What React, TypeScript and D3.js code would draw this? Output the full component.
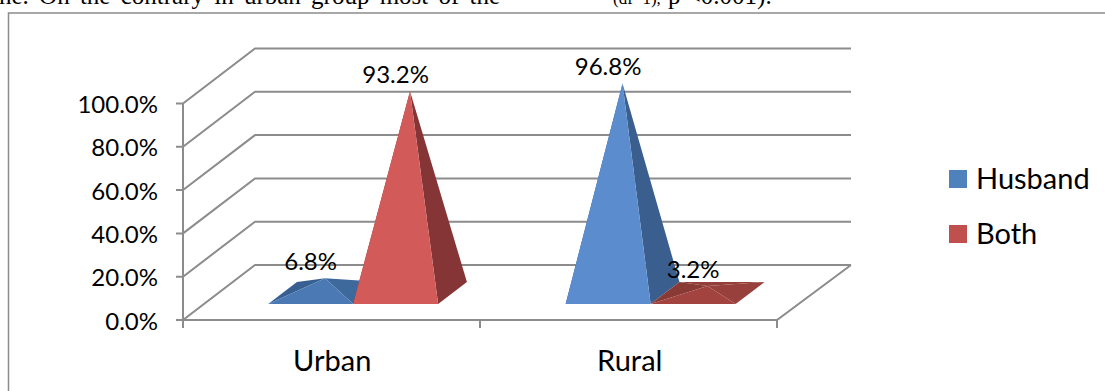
import React from "react";
import * as d3 from "d3";

const categories = ["Urban", "Rural"];
const seriesNames = ["Husband", "Both"];
const husbandValues = [6.8, 96.8];
const bothValues = [93.2, 3.2];
const valueTicks = [0, 20, 40, 60, 80, 100];
const legendColors = ["#4f81bd", "#c0504d"];

// Face shades per series: tall pyramids catch more light than the nearly flat ones.
const tallShades = [
  { front: "#5b8ccd", right: "#3a5f8f", left: "#3a5f8f", back: "#3a5f8f" },
  { front: "#d25b59", right: "#853536", left: "#853536", back: "#853536" },
];
const flatShades = [
  { front: "#4a79b3", right: "#3e699c", left: "#375f91", back: "#3e699c" },
  { front: "#a2433f", right: "#98413c", left: "#8a3a35", back: "#933e39" },
];

const W = 1105;
const H = 391;
const DEPTH_X = 72;
const DEPTH_Y = 55;
const NEAR = 0.29;
const FAR = 0.69;
const BAR_W = 85;
const FONT = "Lato, 'Noto Sans', sans-serif";
const GRID = "#8c8c8c";

const y = d3.scaleLinear().domain([0, 100]).range([320, 103.5]);
const xBand = d3.scaleBand<string>().domain(categories).range([183.5, 778.5]);
const xTick = d3.scalePoint<number>().domain([0, 1, 2]).range([183, 777]);

const path = (pts: [number, number][]) => (d3.line()(pts) ?? "") + "Z";
const fmt = (v: number) => `${v.toFixed(1)}%`;

type Pt = [number, number];

function Pyramid({ cat, series, value }: { cat: string; series: number; value: number }) {
  const inset = (xBand.bandwidth() - 2 * BAR_W) / 2;
  const x0 = (xBand(cat) ?? 0) + inset + series * BAR_W;
  const x1 = x0 + BAR_W;
  const project = (x: number, v: number, d: number): Pt => [x + DEPTH_X * d, y(v) - DEPTH_Y * d];
  const fl = project(x0, 0, NEAR);
  const fr = project(x1, 0, NEAR);
  const bl = project(x0, 0, FAR);
  const br = project(x1, 0, FAR);
  const apex = project((x0 + x1) / 2, value, (NEAR + FAR) / 2);
  const s = (value > 50 ? tallShades : flatShades)[series];
  const labelX = (fl[0] + fr[0]) / 2;
  return (
    <g>
      {apex[1] > bl[1] && <path d={path([bl, br, apex])} fill={s.back} />}
      <path d={path([fl, bl, apex])} fill={s.left} />
      <path d={path([fr, br, apex])} fill={s.right} />
      <path d={path([fl, fr, apex])} fill={s.front} />
      <text x={labelX} y={apex[1] - 8} textAnchor="middle" fontSize={24} fill="#000" fontFamily={FONT}>
        {fmt(value)}
      </text>
    </g>
  );
}

export default function App() {
  return (
    <svg
      width={W}
      height={H}
      viewBox={`0 0 ${W} ${H}`}
      style={{ position: "absolute", left: 0, top: 0, display: "block", background: "#fff" }}
    >
      {/* running text of the page above the figure */}
      <g fontFamily="'Liberation Serif', serif" fill="#000">
        <text x={-1} y={4} fontSize={25} wordSpacing={4}>
          ne. On the contrary in urban group most of the
        </text>
        <text x={613} y={4} fontSize={17}>
          (df=1),
        </text>
        <text x={668} y={4} fontSize={25}>
          p &lt;0.001).
        </text>
      </g>

      {/* chart frame */}
      <path d={`M${W},13H8.5V${H}`} fill="none" stroke={GRID} strokeWidth={1.5} />

      {/* walls, floor and axes */}
      <g fill="none" stroke={GRID} strokeWidth={2}>
        {valueTicks.map((t) => (
          <path
            key={t}
            d={`M176,${y(t)}H183L${183 + DEPTH_X},${y(t) - DEPTH_Y}H${851}`}
          />
        ))}
        <path d={`M183,${y(100)}V328`} />
        <path d={`M183,${y(0)}H${xTick(2)}L851,${y(0) - DEPTH_Y}`} />
        {xTick.domain().map((i) => (
          <path key={i} d={`M${xTick(i)},${y(0)}V328`} />
        ))}
      </g>

      {valueTicks.map((t) => (
        <text
          key={t}
          x={158}
          y={y(t) + 9.5}
          textAnchor="end"
          fontSize={24}
          fontFamily={FONT}
          fill="#000"
        >
          {fmt(t)}
        </text>
      ))}

      {categories.map((c) => (
        <text
          key={c}
          x={(xBand(c) ?? 0) + xBand.bandwidth() / 2}
          y={371}
          textAnchor="middle"
          fontSize={29}
          fontFamily={FONT}
          fill="#000"
        >
          {c}
        </text>
      ))}

      {categories.map((c, i) => (
        <g key={c}>
          <Pyramid cat={c} series={0} value={husbandValues[i]} />
          <Pyramid cat={c} series={1} value={bothValues[i]} />
        </g>
      ))}

      {seriesNames.map((n, i) => (
        <g key={n}>
          <rect x={949} y={170 + i * 55} width={18} height={18} fill={legendColors[i]} />
          <text x={976} y={189 + i * 54.5} fontSize={29} fontFamily={FONT} fill="#000">
            {n}
          </text>
        </g>
      ))}
    </svg>
  );
}
